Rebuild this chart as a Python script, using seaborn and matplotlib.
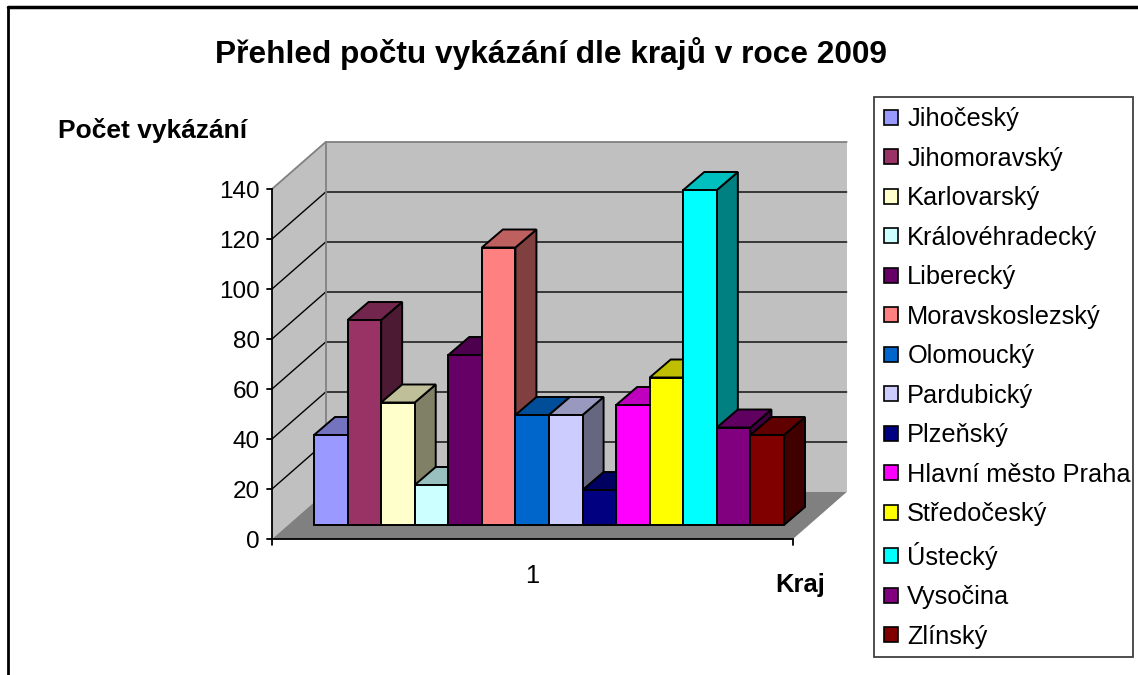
import matplotlib
matplotlib.use("Agg")
import matplotlib.pyplot as plt
import seaborn as sns
import pandas as pd
from matplotlib.patches import Polygon, Patch, Rectangle
from matplotlib.lines import Line2D
from matplotlib.colors import to_rgb
from matplotlib.transforms import ScaledTranslation

# ---------------- data ----------------
regions = ["Jihočeský", "Jihomoravský", "Karlovarský", "Královéhradecký", "Liberecký",
           "Moravskoslezský", "Olomoucký", "Pardubický", "Plzeňský", "Hlavní město Praha",
           "Středočeský", "Ústecký", "Vysočina", "Zlínský"]
counts = [36, 82, 49, 16, 68, 111, 44, 44, 14, 48, 59, 134, 39, 36]
colors = ["#9999FF", "#993366", "#FFFFCC", "#CCFFFF", "#660066", "#FF8080", "#0066CC",
          "#CCCCFF", "#000080", "#FF00FF", "#FFFF00", "#00FFFF", "#800080", "#800000"]
yticks = [0, 20, 40, 60, 80, 100, 120, 140]
category_label = "1"
title = "Přehled počtu vykázání dle krajů v roce 2009"
ylabel = "Počet vykázání"
xlabel = "Kraj"

# ---------------- style ----------------
sns.set_theme(style="white")
plt.rcParams['font.family'] = ['Liberation Sans', 'DejaVu Sans']
plt.rcParams['text.color'] = 'black'

W, H = 1138, 675
fig = plt.figure(figsize=(W / 100, H / 100), dpi=100)
fig.patch.set_facecolor("white")

# axes pixel box and projection constants (layout only)
L, R, T, B = 250, 860, 130, 560
ax = fig.add_axes([L / W, 1 - B / H, (R - L) / W, (B - T) / H])
BAR_PX = 33.57      # px per category slot
X0 = 330.8          # px of first bar center
Y0 = 525.0          # px of value 0 in bar plane
PXV = 2.5           # px per unit value
ax.set_xlim((L - X0) / BAR_PX, (R - X0) / BAR_PX)
ax.set_ylim((Y0 - B) / PXV, (Y0 - T) / PXV)
ax.set_facecolor("none")
ax.axis("off")

def px_dx(p):
    return p / BAR_PX

def px_dy(p):
    return p / PXV

xl = (272 - X0) / BAR_PX     # front-left of floor
xr = (793 - X0) / BAR_PX     # front-right of floor
z0 = (Y0 - 539) / PXV        # value 0 on front plane
DX, DY = px_dx(53.7), px_dy(47)
vmax = yticks[-1]

wall_c = "#C0C0C0"
floor_c = "#808080"
edge_gray = "#808080"
FS = 18.3

# back wall
ax.add_patch(Polygon([(xl + DX, z0 + DY), (xr + DX, z0 + DY), (xr + DX, z0 + DY + vmax),
                      (xl + DX, z0 + DY + vmax)], closed=True, facecolor=wall_c,
                     edgecolor="none", zorder=1))
# left wall
ax.add_patch(Polygon([(xl, z0), (xl + DX, z0 + DY), (xl + DX, z0 + DY + vmax), (xl, z0 + vmax)],
                     closed=True, facecolor=wall_c, edgecolor="none", zorder=1))
# floor
ax.add_patch(Polygon([(xl, z0), (xr, z0), (xr + DX, z0 + DY), (xl + DX, z0 + DY)],
                     closed=True, facecolor=floor_c, edgecolor="none", zorder=1))
# wall edges
ax.plot([xl, xl + DX, xr + DX], [z0 + vmax, z0 + DY + vmax, z0 + DY + vmax],
        color=edge_gray, lw=1.3, zorder=1.6, solid_joinstyle="miter")
ax.plot([xl + DX, xl + DX], [z0 + DY, z0 + DY + vmax], color=edge_gray, lw=1.3, zorder=1.6)
# gridlines
for v in yticks[1:-1]:
    ax.plot([xl, xl + DX, xr + DX], [z0 + v, z0 + DY + v, z0 + DY + v],
            color="black", lw=1.0, zorder=1.5)

# axes lines
ax.plot([xl, xl], [z0 - px_dy(6), z0 + vmax], color="black", lw=1.3, zorder=2)
ax.plot([xl, xr], [z0, z0], color="black", lw=1.3, zorder=2)
ax.plot([xr, xr], [z0, z0 - px_dy(6)], color="black", lw=1.3, zorder=2)
for v in yticks:
    ax.plot([xl - px_dx(5), xl], [z0 + v, z0 + v], color="black", lw=1.3, zorder=2)
    ax.text(xl, z0 + v, str(v), ha="right", va="baseline", fontsize=17.5, color="black",
            transform=ax.transData + ScaledTranslation(-12 / 100, -8.5 / 100, fig.dpi_scale_trans))

# category label
ax.text((xl + xr) / 2, z0, category_label, ha="center", va="baseline", fontsize=FS,
        transform=ax.transData + ScaledTranslation(0, -44 / 100, fig.dpi_scale_trans))

# ---------------- bars ----------------
df = pd.DataFrame({"Kraj": regions, "Pocet": counts})
sns.barplot(data=df, x="Kraj", y="Pocet", hue="Kraj", palette=colors, width=1.0,
            saturation=1, edgecolor="black", linewidth=1.4, ax=ax, legend=False)
ax.set_xlim((L - X0) / BAR_PX, (R - X0) / BAR_PX)
ax.set_ylim((Y0 - B) / PXV, (Y0 - T) / PXV)
ax.axis("off")

bdx, bdy = px_dx(21), px_dy(18)
for p in list(ax.patches):
    if not hasattr(p, "get_width") or p.get_height() <= 0:
        continue
    x0 = p.get_x()
    w = p.get_width()
    h = p.get_height()
    i = int(round(x0 + w / 2))
    base = to_rgb(p.get_facecolor())
    top_c = tuple(c * 0.75 for c in base)
    side_c = tuple(c * 0.5 for c in base)
    x1 = x0 + w
    p.set_zorder(10 + 3 * i + 2)
    p.set_joinstyle("miter")
    ax.add_patch(Polygon([(x1, 0), (x1 + bdx, bdy), (x1 + bdx, h + bdy), (x1, h)], closed=True,
                         facecolor=side_c, edgecolor="black", lw=1.4, joinstyle="miter",
                         zorder=10 + 3 * i))
    ax.add_patch(Polygon([(x0, h), (x1, h), (x1 + bdx, h + bdy), (x0 + bdx, h + bdy)], closed=True,
                         facecolor=top_c, edgecolor="black", lw=1.4, joinstyle="miter",
                         zorder=10 + 3 * i + 1))

# ---------------- texts ----------------
fig.text(551 / W, 1 - 63 / H, title, ha="center", va="baseline", fontsize=22.8, fontweight="bold")
fig.text(58 / W, 1 - 138 / H, ylabel, ha="left", va="baseline", fontsize=19, fontweight="bold")
fig.text(775 / W, 1 - 592 / H, xlabel, ha="left", va="baseline", fontsize=18.4, fontweight="bold")

# ---------------- legend ----------------
handles = [Patch(facecolor=c, edgecolor="black", linewidth=1.2) for c in colors]
leg = fig.legend(handles, regions, loc="upper left", bbox_to_anchor=(874 / W, 1 - 97 / H),
                 frameon=False, fontsize=FS,
                 handlelength=0.55, handleheight=0.55, handletextpad=0.36,
                 labelspacing=0.61, borderpad=0.4, borderaxespad=0.0)
# legend frame box
fig.add_artist(Rectangle((874 / W, 1 - 657 / H), (1133 - 874) / W, (657 - 97) / H,
                         transform=fig.transFigure, facecolor="none", edgecolor="#404040",
                         lw=1.3, zorder=0.5))

# ---------------- outer border ----------------
fig.add_artist(Line2D([8 / W, 1], [1 - 7 / H, 1 - 7 / H], transform=fig.transFigure,
                      color="black", lw=2.5))
fig.add_artist(Line2D([8 / W, 8 / W], [0, 1 - 7 / H], transform=fig.transFigure,
                      color="black", lw=2.0))

fig.savefig("out.png", dpi=100)
